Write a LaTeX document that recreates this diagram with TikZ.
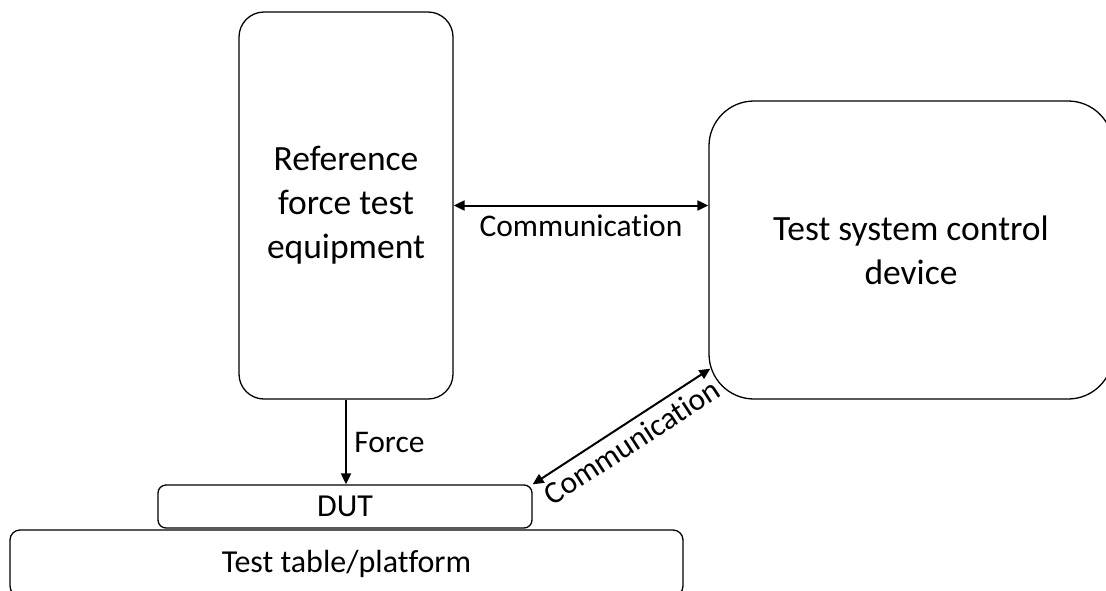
\documentclass[tikz,border=0pt]{standalone}
\usepackage{fontspec}
\setmainfont{Carlito}[Ligatures=NoCommon]
\usetikzlibrary{arrows.meta,calc}

\begin{document}
\begin{tikzpicture}[x=1pt, y=-1pt,
    box/.style={draw, line width=1.3pt, rounded corners=#1, inner sep=0pt, align=center},
    tip/.style={-{Triangle[length=11pt,width=10pt]}},
    link/.style={line width=2pt, {Triangle[length=11pt,width=10pt]}-{Triangle[length=11pt,width=10pt]}},
    big/.style={font=\fontsize{35.5}{44}\selectfont},
    small/.style={font=\fontsize{31.5}{36}\selectfont}]
            % frame
            \useasboundingbox (0,0) rectangle (1106,590);
            \begin{scope}
            \clip (0,0) rectangle (1106,590);
            % boxes
            \node[box=25pt, big, minimum width=214pt, minimum height=387pt](ref)at(346,205.5){Reference\\force test\\equipment};
            \node[box=45pt, big, minimum width=404pt, minimum height=298pt](ctrl)at(911,250){Test system control\\device};
            \node[box=8pt, font=\fontsize{32}{38}\selectfont, minimum width=374pt, minimum height=43pt](dut)at(345,506.5){DUT};
            \node[box=10pt, minimum width=673pt, minimum height=66pt](table)at(346.5,563){};
            \node[font=\fontsize{32}{38}\selectfont](tabletext)at(346.5,564){Test table/platform};
            \end{scope}
            % connections
            \coordinate(C)at([shift={(2pt,31pt)}]ctrl.south west);
            \path[draw, link](ref.east)to node[below=5pt, small]{Communication}(ref.east -| ctrl.west);
            \path[draw, line width=2pt, tip](ref.south)to node[right=4pt, small]{Force}(ref.south |- dut.north);
            \path[draw, link](dut.north east)to node[below=3pt, small, sloped]{Communication}(C);
\end{tikzpicture}
\end{document}
